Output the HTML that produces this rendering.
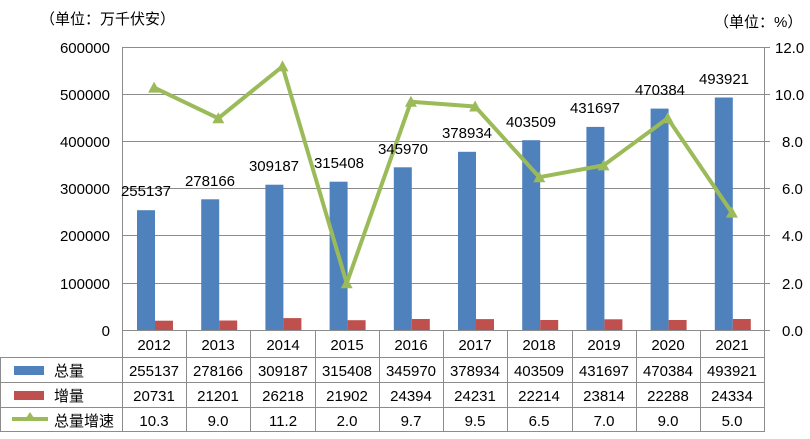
<!DOCTYPE html>
<html><head><meta charset="utf-8"><style>
body{margin:0;background:#fff;}
svg{display:block;font-family:"Liberation Sans","Noto Sans CJK SC",sans-serif;}
</style></head><body>
<svg width="810" height="439" viewBox="0 0 810 439" xmlns="http://www.w3.org/2000/svg">
<rect width="810" height="439" fill="#fff"/>
<g font-size="15" fill="#000">
<text x="40" y="24" font-size="15">（单位：万千伏安）</text>
<text x="714" y="27" font-size="15">（单位：%）</text>
</g>
<g stroke="#8c8c8c" stroke-width="1">
<line x1="122" y1="47.5" x2="764" y2="47.5"/>
<line x1="122" y1="94.5" x2="764" y2="94.5"/>
<line x1="122" y1="141.5" x2="764" y2="141.5"/>
<line x1="122" y1="188.5" x2="764" y2="188.5"/>
<line x1="122" y1="235.5" x2="764" y2="235.5"/>
<line x1="122" y1="283.5" x2="764" y2="283.5"/>
<line x1="122.5" y1="47" x2="122.5" y2="431"/>
<line x1="764.5" y1="47" x2="764.5" y2="331"/>
<line x1="764" y1="47.5" x2="770" y2="47.5"/>
<line x1="764" y1="94.5" x2="770" y2="94.5"/>
<line x1="764" y1="141.5" x2="770" y2="141.5"/>
<line x1="764" y1="188.5" x2="770" y2="188.5"/>
<line x1="764" y1="235.5" x2="770" y2="235.5"/>
<line x1="764" y1="283.5" x2="770" y2="283.5"/>
<line x1="764" y1="330.5" x2="770" y2="330.5"/>
</g>
<g font-size="15" text-anchor="end">
<text x="110" y="53">600000</text>
<text x="110" y="100">500000</text>
<text x="110" y="147">400000</text>
<text x="110" y="194">300000</text>
<text x="110" y="241">200000</text>
<text x="110" y="289">100000</text>
<text x="110" y="336">0</text>
</g>
<g font-size="15">
<text x="775" y="53">12.0</text>
<text x="775" y="100">10.0</text>
<text x="782" y="147">8.0</text>
<text x="782" y="194">6.0</text>
<text x="782" y="241">4.0</text>
<text x="782" y="289">2.0</text>
<text x="782" y="336">0.0</text>
</g>
<g fill="#4f81bd">
<rect x="137" y="210.2" width="18" height="120.3"/>
<rect x="201.2" y="199.3" width="18" height="131.2"/>
<rect x="265.4" y="184.7" width="18" height="145.8"/>
<rect x="329.6" y="181.7" width="18" height="148.8"/>
<rect x="393.8" y="167.3" width="18" height="163.2"/>
<rect x="458" y="151.8" width="18" height="178.7"/>
<rect x="522.2" y="140.2" width="18" height="190.3"/>
<rect x="586.4" y="126.9" width="18" height="203.6"/>
<rect x="650.6" y="108.6" width="18" height="221.9"/>
<rect x="714.8" y="97.5" width="18" height="233"/>
</g>
<g fill="#c0504d">
<rect x="155" y="320.7" width="18" height="9.8"/>
<rect x="219.2" y="320.5" width="18" height="10"/>
<rect x="283.4" y="318.1" width="18" height="12.4"/>
<rect x="347.6" y="320.2" width="18" height="10.3"/>
<rect x="411.8" y="319" width="18" height="11.5"/>
<rect x="476" y="319.1" width="18" height="11.4"/>
<rect x="540.2" y="320" width="18" height="10.5"/>
<rect x="604.4" y="319.3" width="18" height="11.2"/>
<rect x="668.6" y="320" width="18" height="10.5"/>
<rect x="732.8" y="319" width="18" height="11.5"/>
</g>
<line x1="122" y1="330.5" x2="764" y2="330.5" stroke="#8c8c8c"/>
<polyline fill="none" stroke="#9bbb59" stroke-width="4" stroke-linejoin="round" points="154.1,87.6 218.3,118.3 282.5,66.4 346.7,283.3 410.9,101.8 475.1,106.5 539.3,177.2 603.5,165.4 667.7,118.3 731.9,212.6"/>
<g fill="#9bbb59">
<polygon points="154.1,81.6 148.1,92.6 160.1,92.6"/>
<polygon points="218.3,112.3 212.3,123.3 224.3,123.3"/>
<polygon points="282.5,60.4 276.5,71.4 288.5,71.4"/>
<polygon points="346.7,277.3 340.7,288.3 352.7,288.3"/>
<polygon points="410.9,95.8 404.9,106.8 416.9,106.8"/>
<polygon points="475.1,100.5 469.1,111.5 481.1,111.5"/>
<polygon points="539.3,171.2 533.3,182.2 545.3,182.2"/>
<polygon points="603.5,159.4 597.5,170.4 609.5,170.4"/>
<polygon points="667.7,112.3 661.7,123.3 673.7,123.3"/>
<polygon points="731.9,206.6 725.9,217.6 737.9,217.6"/>
</g>
<g font-size="15" text-anchor="middle">
<text x="146" y="196">255137</text>
<text x="210" y="186">278166</text>
<text x="274" y="171">309187</text>
<text x="339" y="168">315408</text>
<text x="403" y="154">345970</text>
<text x="467" y="138">378934</text>
<text x="531" y="127">403509</text>
<text x="595" y="113">431697</text>
<text x="660" y="95">470384</text>
<text x="724" y="84">493921</text>
</g>
<g stroke="#8c8c8c" stroke-width="1">
<line x1="122" y1="357.5" x2="764" y2="357.5"/>
<line x1="0" y1="357.5" x2="122" y2="357.5"/>
<line x1="0" y1="382.5" x2="764" y2="382.5"/>
<line x1="0" y1="407.5" x2="764" y2="407.5"/>
<line x1="0" y1="431.5" x2="764" y2="431.5"/>
<line x1="0.5" y1="357" x2="0.5" y2="432"/>
<line x1="186.5" y1="331" x2="186.5" y2="432"/>
<line x1="250.5" y1="331" x2="250.5" y2="432"/>
<line x1="315.5" y1="331" x2="315.5" y2="432"/>
<line x1="379.5" y1="331" x2="379.5" y2="432"/>
<line x1="443.5" y1="331" x2="443.5" y2="432"/>
<line x1="507.5" y1="331" x2="507.5" y2="432"/>
<line x1="572.5" y1="331" x2="572.5" y2="432"/>
<line x1="636.5" y1="331" x2="636.5" y2="432"/>
<line x1="700.5" y1="331" x2="700.5" y2="432"/>
<line x1="764.5" y1="331" x2="764.5" y2="432"/>
</g>
<rect x="14" y="366" width="30" height="9" fill="#4f81bd"/>
<rect x="14" y="391" width="30" height="9" fill="#c0504d"/>
<line x1="12" y1="419" x2="48" y2="419" stroke="#9bbb59" stroke-width="4"/>
<polygon points="30,412 24,421 36,421" fill="#9bbb59"/>
<g font-size="15">
<text x="54" y="376">总量</text>
<text x="54" y="401">增量</text>
<text x="54" y="426">总量增速</text>
</g>
<g font-size="15" text-anchor="middle">
<text x="154" y="350">2012</text><text x="218" y="350">2013</text><text x="283" y="350">2014</text><text x="347" y="350">2015</text><text x="411" y="350">2016</text><text x="475" y="350">2017</text><text x="539" y="350">2018</text><text x="604" y="350">2019</text><text x="668" y="350">2020</text><text x="732" y="350">2021</text>
<text x="154" y="376">255137</text><text x="218" y="376">278166</text><text x="283" y="376">309187</text><text x="347" y="376">315408</text><text x="411" y="376">345970</text><text x="475" y="376">378934</text><text x="539" y="376">403509</text><text x="604" y="376">431697</text><text x="668" y="376">470384</text><text x="732" y="376">493921</text>
<text x="154" y="401">20731</text><text x="218" y="401">21201</text><text x="283" y="401">26218</text><text x="347" y="401">21902</text><text x="411" y="401">24394</text><text x="475" y="401">24231</text><text x="539" y="401">22214</text><text x="604" y="401">23814</text><text x="668" y="401">22288</text><text x="732" y="401">24334</text>
<text x="154" y="426">10.3</text><text x="218" y="426">9.0</text><text x="283" y="426">11.2</text><text x="347" y="426">2.0</text><text x="411" y="426">9.7</text><text x="475" y="426">9.5</text><text x="539" y="426">6.5</text><text x="604" y="426">7.0</text><text x="668" y="426">9.0</text><text x="732" y="426">5.0</text>
</g>
</svg>
</body></html>
